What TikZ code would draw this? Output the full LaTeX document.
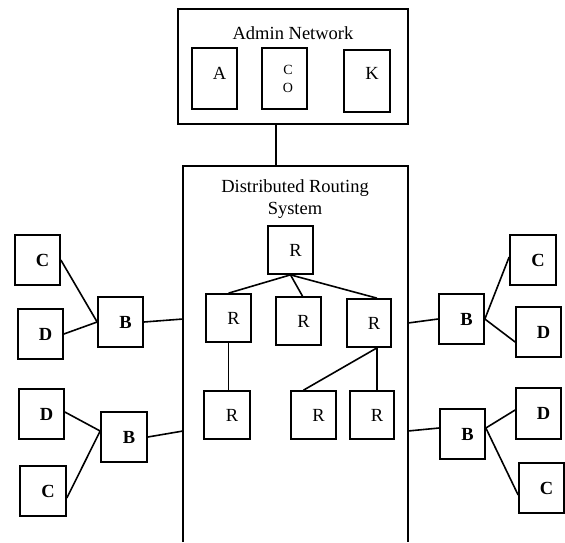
\documentclass[tikz,border=0pt]{standalone}
\usepackage{fontspec}
\setmainfont{Liberation Serif}
\newcommand{\rs}[1]{\hspace*{10pt}#1}
\begin{document}
\begin{tikzpicture}[x=1pt,y=-1pt,
  box/.style={draw, line width=1.7pt, minimum width=45pt, minimum height=50pt,
    inner sep=0pt, font=\fontsize{18.5}{20}\selectfont},
  leaf/.style={box, font=\fontsize{18.5}{20}\selectfont\bfseries},
  wire/.style={line width=1.6pt},
  frame/.style={line width=2pt},
  title/.style={inner sep=0pt, align=center, font=\fontsize{18.5}{22}\selectfont}]
\useasboundingbox (0,0) rectangle (565,542);

% Admin network
\node[draw, frame, minimum width=230pt, minimum height=115pt, inner sep=0pt] (admin) at (293,66.5) {};
\node[title] (admintitle) at (293,33) {Admin Network};
\node[box, minimum height=61pt] (a) at (214.5,78.5) {\rs{\raisebox{11pt}{A}}};
\node[box, minimum height=61pt, align=center, font=\fontsize{14}{18}\selectfont] (co) at (284.5,78.5) {\hspace*{7pt}C\\\hspace*{7pt}O};
\node[box, line width=2.1pt, minimum width=46pt, minimum height=62pt] (k) at (367,81) {\rs{\raisebox{15pt}{K}}};

% Distributed routing system (open at the bottom)
\node[minimum width=225pt, minimum height=376pt, inner sep=0pt] (drs) at (295.5,354) {};
\draw[frame] (drs.south west) -- (drs.north west) -- (drs.north east) -- (drs.south east);
\node[title] (drstitle) at (295,199) {Distributed Routing\\System};

\coordinate (admdown) at (276,124);
\coordinate (drsup) at (276,166);
\draw[wire] (admdown) -- (drsup);

% Routers
\node[box, minimum height=48pt] (r0) at (290.5,250) {\rs{R}};
\node[box, minimum height=48pt] (r1) at (228.5,318) {\rs{R}};
\node[box, minimum height=48pt] (r2) at (298.5,321) {\rs{R}};
\node[box, minimum height=48pt, minimum width=44pt] (r3) at (369,323) {\rs{R}};
\node[box, minimum height=48pt, minimum width=46pt] (r4) at (227,415) {\rs{R}};
\node[box, minimum height=48pt] (r5) at (313.5,415) {\rs{R}};
\node[box, minimum height=48pt, minimum width=44pt] (r6) at (372,415) {\rs{R}};

\draw[wire] (r1.north) -- (r0.south) -- ([xshift=4pt]r2.north);
\draw[wire] (r0.south) -- ([xshift=8pt]r3.north);
\draw[wire] (r1.south) -- (r1.south |- r4.north);
\draw[wire] ([xshift=-10pt]r5.north) -- ([xshift=8pt]r3.south) -- ([xshift=5pt]r6.north);

% Left edge attachments
\node[leaf] (c1) at (37.5,260) {\rs{C}};
\node[leaf] (d1) at (40.5,334) {\rs{D}};
\node[leaf] (b1) at (120.5,322) {\rs{B}};
\node[leaf] (d2) at (41.5,414) {\rs{D}};
\node[leaf, minimum width=46pt] (c2) at (43,491) {\rs{C}};
\node[leaf, minimum width=46pt] (b2) at (124,437) {\rs{B}};

\coordinate (lup) at (183,319);
\coordinate (llo) at (183,431);
\draw[wire] (c1.east) -- (b1.west) -- (d1.east);
\draw[wire] (b1.east) -- (lup);
\draw[wire] ([yshift=2pt]d2.east) -- ([yshift=6pt]b2.west) -- ([yshift=-7pt]c2.east);
\draw[wire] (b2.east) -- (llo);

% Right edge attachments
\node[leaf] (b3) at (461.5,319) {\rs{B}};
\node[leaf, minimum width=46pt] (c3) at (533,260) {\rs{C}};
\node[leaf] (d3) at (538.5,332) {\rs{D}};
\node[leaf] (b4) at (462.5,434) {\rs{B}};
\node[leaf, minimum height=51pt] (d4) at (538.5,413.5) {\rs{D}};
\node[leaf] (c4) at (541.5,488) {\rs{C}};

\coordinate (rup) at (408,323);
\coordinate (rlo) at (408,431);
\draw[wire] (rup) -- (b3.west);
\draw[wire] ([yshift=3pt]c3.west) -- (b3.east) -- ([yshift=-10pt]d3.west);
\draw[wire] (rlo) -- ([yshift=6pt]b4.west);
\draw[wire] ([yshift=3.5pt]d4.west) -- ([yshift=6pt]b4.east) -- ([yshift=-7pt]c4.west);
\end{tikzpicture}
\end{document}
